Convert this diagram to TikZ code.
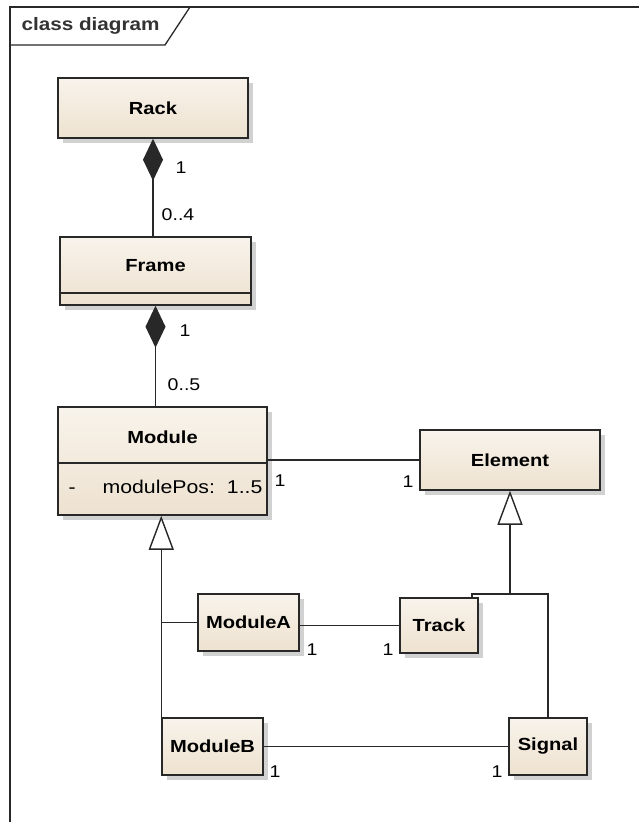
\documentclass[tikz,border=0pt]{standalone}
\usepackage{fontspec}
\setmainfont[FakeStretch=1.15]{Liberation Sans}
\usetikzlibrary{arrows.meta,shadows}
\definecolor{umlbeige}{RGB}{238,226,208}
\definecolor{umllight}{RGB}{248,243,235}
\definecolor{umlline}{RGB}{40,40,40}
\tikzset{
	umlclass/.style={draw=umlline, line width=1.5pt, top color=umllight, bottom color=umlbeige,
		drop shadow={shadow xshift=5pt, shadow yshift=-5pt, fill=black!30, opacity=0.6},
		inner sep=0pt, font=\fontsize{17.5}{20}\selectfont\bfseries},
	classname/.style={font=\fontsize{17.5}{20}\selectfont\bfseries},
	mult/.style={font=\fontsize{17}{20}\selectfont, inner sep=1pt},
	assoc/.style={draw=umlline, line width=1.4pt},
	comp/.style={assoc, {Diamond[width=20pt,length=42pt]}-},
	gen/.style={assoc, -{Triangle[open,width=25pt,length=34pt,fill=white]}},
}
\begin{document}
\begin{tikzpicture}[x=1pt,y=-1pt]
	\useasboundingbox (0,0) rectangle (639,822);
	% diagram frame
	\draw[umlline, line width=1.5pt] (10,822) -- (10,7) -- (639,7);
	\draw[umlline, line width=1.3pt] (10,45) -- (165,45) -- (190,7);
	\node[anchor=west, font=\fontsize{18}{21}\selectfont\bfseries, text=black!80] (title) at (18,26) {class diagram};
	% classes
	\node[umlclass, minimum width=190pt, minimum height=60pt] (rack) at (153,108) {Rack};
	\node[umlclass, minimum width=191pt, minimum height=68pt] (frame) at (155.5,271) {};
	\node[classname] (framename) at (155.5,266) {Frame};
	\draw[umlline, line width=1.3pt] (frame.west |- 0,293) -- (frame.east |- 0,293);
	\node[umlclass, minimum width=209pt, minimum height=108pt] (module) at (162.5,461) {};
	\node[classname] (modulename) at (162.5,437) {Module};
	\draw[umlline, line width=1.3pt] (module.west |- 0,463) -- (module.east |- 0,463);
	\node[anchor=west, font=\fontsize{18.5}{21}\selectfont] (moduleattr) at (65,487) {-\hspace{27pt}modulePos:\hspace{12pt}1..5};
	\node[umlclass, minimum width=180pt, minimum height=60pt] (element) at (510,460) {Element};
	\node[umlclass, minimum width=101pt, minimum height=57pt] (moduleA) at (248.5,622.5) {ModuleA};
	\node[umlclass, minimum width=101pt, minimum height=57pt] (moduleB) at (212.5,746.5) {ModuleB};
	\node[umlclass, minimum width=78pt, minimum height=55pt] (track) at (439,625.5) {Track};
	\node[umlclass, minimum width=78pt, minimum height=57pt] (signal) at (548,746.5) {Signal};
	% compositions
	\draw[comp] (rack.south) -- (rack.south |- frame.north);
	\draw[comp] (frame.south) -- (frame.south |- module.north);
	% associations
	\draw[assoc] (module.east |- element.west) -- (element.west);
	\draw[assoc] (track.west -| moduleA.east) -- (track.west);
	\draw[assoc] (moduleB.east) -- (signal.west);
	% generalizations
	\coordinate (trackjoin) at (472,594);
	\coordinate (signaljoin) at (548,594);
	\coordinate (elemjoin) at (510,594);
	\draw[assoc] (track.north -| trackjoin) -- (trackjoin) -- (signaljoin) -- (signal.north);
	\draw[gen] (elemjoin) -- (element.south);
	\draw[gen] (moduleB.north west) -- (moduleB.north west |- module.south);
	\draw[assoc] (moduleA.west) -- (moduleA.west -| moduleB.north west);
	% multiplicities
	\node[mult] (rackone) at (181,168) {1};
	\node[mult] (framemany) at (178,215) {0..4};
	\node[mult] (frameone) at (185,331) {1};
	\node[mult] (modulemany) at (184,385) {0..5};
	\node[mult] (moduleone) at (280,481) {1};
	\node[mult] (elementone) at (408,482) {1};
	\node[mult] (moduleAone) at (312,650) {1};
	\node[mult] (trackone) at (388,650) {1};
	\node[mult] (moduleBone) at (275,772) {1};
	\node[mult] (signalone) at (497,772) {1};
\end{tikzpicture}
\end{document}
